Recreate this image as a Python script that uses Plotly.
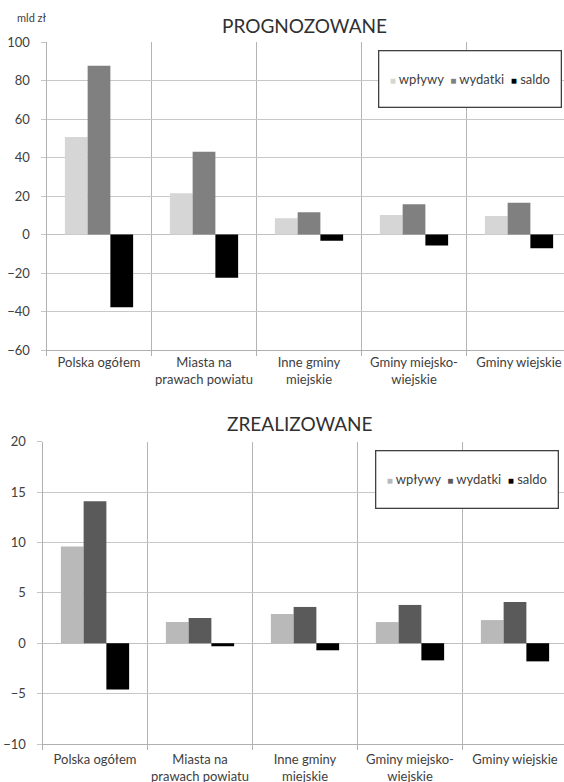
import plotly.graph_objects as go
from plotly.subplots import make_subplots

# ---- data ----
categories = ["Polska ogółem", "Miasta na prawach powiatu", "Inne gminy miejskie",
              "Gminy miejsko-wiejskie", "Gminy wiejskie"]
tick_labels = ["Polska ogółem", "Miasta na<br>prawach powiatu", "Inne gminy<br>miejskie",
               "Gminy miejsko-<br>wiejskie", "Gminy wiejskie"]
series_names = ["wpływy", "wydatki", "saldo"]

prog_wplywy = [50.8, 21.5, 8.5, 10.2, 9.7]
prog_wydatki = [87.8, 43.1, 11.6, 15.8, 16.6]
prog_saldo = [-37.8, -22.4, -3.2, -5.6, -7.1]

real_wplywy = [9.6, 2.1, 2.9, 2.1, 2.3]
real_wydatki = [14.1, 2.5, 3.6, 3.8, 4.1]
real_saldo = [-4.6, -0.3, -0.7, -1.7, -1.8]

prog_ticks = [100, 80, 60, 40, 20, 0, -20, -40, -60]
real_ticks = [20, 15, 10, 5, 0, -5, -10]

# ---- styles ----
W, H = 564, 782
FONT = "Lato"
TXT = "#404040"
prog_colors = ["#d6d6d6", "#808080", "#000000"]
real_colors = ["#b9b9b9", "#5a5a5a", "#000000"]

fig = make_subplots(rows=2, cols=1)

for name, vals, col in zip(series_names, [prog_wplywy, prog_wydatki, prog_saldo], prog_colors):
    fig.add_trace(go.Bar(x=categories, y=vals, name=name, marker_color=col,
                         marker_line_width=0, showlegend=False), row=1, col=1)
for name, vals, col in zip(series_names, [real_wplywy, real_wydatki, real_saldo], real_colors):
    fig.add_trace(go.Bar(x=categories, y=vals, name=name, marker_color=col,
                         marker_line_width=0, showlegend=False), row=2, col=1)


def px_x(p):
    return p / W


def px_y(p):
    return 1 - p / H


# plot areas run past the right edge of the picture (cut at 564 px)
top_left, bot_left = 46.5, 42.5
cat_w = 105.0
fig.update_layout(
    xaxis=dict(domain=[px_x(top_left), 1.0], range=[-0.5, -0.5 + (W - top_left) / cat_w]),
    yaxis=dict(domain=[px_y(350), px_y(42.3)], range=[-60, 100]),
    xaxis2=dict(domain=[px_x(bot_left), 1.0], range=[-0.5, -0.5 + (W - bot_left) / cat_w]),
    yaxis2=dict(domain=[px_y(744), px_y(441.7)], range=[-10, 20]),
)

for ax in ["xaxis", "xaxis2"]:
    fig.layout[ax].update(
        type="category", tickmode="array", tickvals=categories, ticktext=tick_labels,
        tickson="boundaries", ticks="outside", ticklen=5, tickcolor="#b0b0b0",
        showgrid=True, gridcolor="#b4b4b4", gridwidth=1,
        showline=True, linecolor="#b0b0b0", linewidth=1,
        tickangle=0, automargin=False, ticklabelstandoff=0,
        tickfont=dict(family=FONT, size=13, color=TXT), fixedrange=True,
    )
fig.layout.xaxis2.ticklabelstandoff = 3
fig.layout.yaxis.update(tickvals=prog_ticks)
fig.layout.yaxis2.update(tickvals=real_ticks)
for ax in ["yaxis", "yaxis2"]:
    fig.layout[ax].update(
        tickmode="array", ticks="outside", ticklen=5, tickcolor="#c4c4c4",
        showgrid=True, gridcolor="#c8c8c8", gridwidth=1,
        zeroline=True, zerolinecolor="#c0c0c0", zerolinewidth=1,
        showline=True, linecolor="#b0b0b0", linewidth=1,
        automargin=False, ticklabelstandoff=8,
        tickfont=dict(family=FONT, size=13, color=TXT), fixedrange=True,
    )

NB = "\u00a0"


def legend_text(colors):
    parts = []
    for name, col in zip(series_names, colors):
        parts.append(f'<span style="color:{col};font-size:10px">■</span>{NB}{name}')
    return (NB * 2).join(parts)


annotations = [
    dict(text="PROGNOZOWANE", x=px_x(304), y=px_y(25), xref="paper", yref="paper",
         xanchor="center", yanchor="middle", showarrow=False,
         font=dict(family=FONT, size=19, color="#303030")),
    dict(text="ZREALIZOWANE", x=px_x(300), y=px_y(423), xref="paper", yref="paper",
         xanchor="center", yanchor="middle", showarrow=False,
         font=dict(family=FONT, size=19, color="#303030")),
    dict(text="mld zł", x=px_x(32), y=px_y(18), xref="paper", yref="paper",
         xanchor="center", yanchor="middle", showarrow=False,
         font=dict(family=FONT, size=11, color=TXT)),
    dict(text=legend_text(prog_colors), x=px_x(469.5), y=px_y(78.5), xref="paper", yref="paper",
         xanchor="center", yanchor="middle", showarrow=False, width=179, height=53,
         bgcolor="white", bordercolor="#404040", borderwidth=1.3, borderpad=1,
         font=dict(family=FONT, size=13, color=TXT)),
    dict(text=legend_text(real_colors), x=px_x(466.8), y=px_y(479), xref="paper", yref="paper",
         xanchor="center", yanchor="middle", showarrow=False, width=179, height=54,
         bgcolor="white", bordercolor="#404040", borderwidth=1.3, borderpad=1,
         font=dict(family=FONT, size=13, color=TXT)),
]

fig.update_layout(
    width=W, height=H, margin=dict(l=0, r=0, t=0, b=0, autoexpand=False),
    paper_bgcolor="white", plot_bgcolor="white",
    barmode="group", bargap=0.35, bargroupgap=0,
    showlegend=False, annotations=annotations,
    font=dict(family=FONT, color=TXT),
)

fig.write_html("out.html", config={"displayModeBar": False},
               post_script="document.body.style.margin='0';document.body.style.overflow='hidden';")
